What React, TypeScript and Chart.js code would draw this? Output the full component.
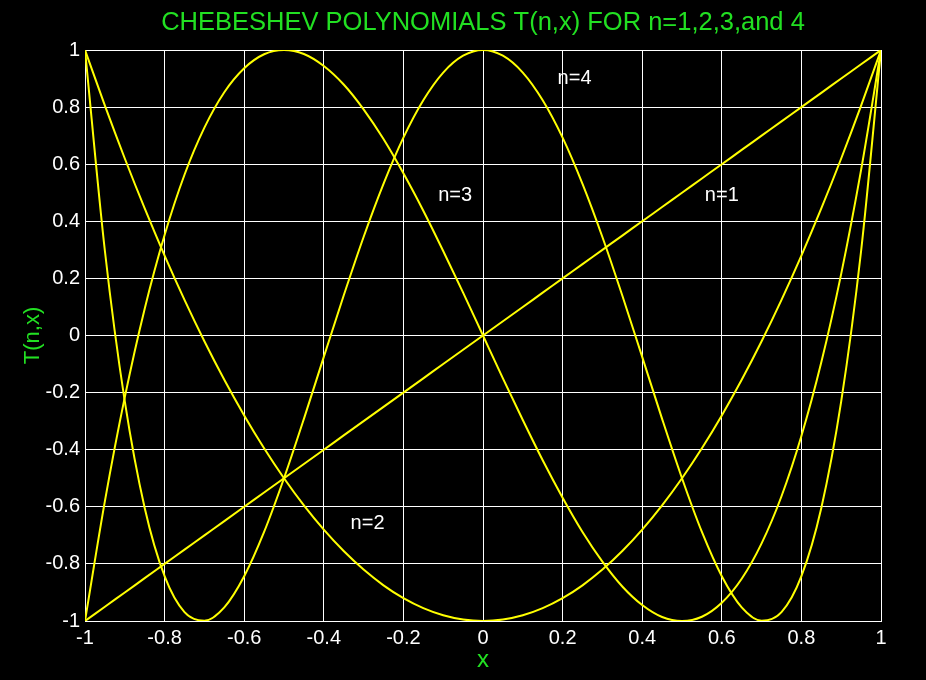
import React, { useEffect, useRef } from "react";
import { Chart, registerables } from "chart.js";
Chart.register(...registerables);

const xValues = [-1, -0.95, -0.9, -0.85, -0.8, -0.75, -0.7, -0.65, -0.6, -0.55, -0.5, -0.45, -0.4, -0.35, -0.3, -0.25, -0.2, -0.15, -0.1, -0.05, 0, 0.05, 0.1, 0.15, 0.2, 0.25, 0.3, 0.35, 0.4, 0.45, 0.5, 0.55, 0.6, 0.65, 0.7, 0.75, 0.8, 0.85, 0.9, 0.95, 1];
const t1 = [-1, -0.95, -0.9, -0.85, -0.8, -0.75, -0.7, -0.65, -0.6, -0.55, -0.5, -0.45, -0.4, -0.35, -0.3, -0.25, -0.2, -0.15, -0.1, -0.05, 0, 0.05, 0.1, 0.15, 0.2, 0.25, 0.3, 0.35, 0.4, 0.45, 0.5, 0.55, 0.6, 0.65, 0.7, 0.75, 0.8, 0.85, 0.9, 0.95, 1];
const t2 = [1, 0.805, 0.62, 0.445, 0.28, 0.125, -0.02, -0.155, -0.28, -0.395, -0.5, -0.595, -0.68, -0.755, -0.82, -0.875, -0.92, -0.955, -0.98, -0.995, -1, -0.995, -0.98, -0.955, -0.92, -0.875, -0.82, -0.755, -0.68, -0.595, -0.5, -0.395, -0.28, -0.155, -0.02, 0.125, 0.28, 0.445, 0.62, 0.805, 1];
const t3 = [-1, -0.58, -0.216, 0.094, 0.352, 0.563, 0.728, 0.852, 0.936, 0.985, 1, 0.986, 0.944, 0.879, 0.792, 0.688, 0.568, 0.437, 0.296, 0.15, 0, -0.15, -0.296, -0.437, -0.568, -0.688, -0.792, -0.879, -0.944, -0.986, -1, -0.985, -0.936, -0.852, -0.728, -0.563, -0.352, -0.094, 0.216, 0.58, 1];
const t4 = [1, 0.296, -0.231, -0.604, -0.843, -0.969, -0.999, -0.952, -0.843, -0.688, -0.5, -0.292, -0.075, 0.14, 0.345, 0.531, 0.693, 0.824, 0.921, 0.98, 1, 0.98, 0.921, 0.824, 0.693, 0.531, 0.345, 0.14, -0.075, -0.292, -0.5, -0.688, -0.843, -0.952, -0.999, -0.969, -0.843, -0.604, -0.231, 0.296, 1];
const seriesList = [t1, t2, t3, t4];
const curveLabels = ["n=1", "n=2", "n=3", "n=4"];
const labelX = [0.6, -0.29, -0.07, 0.23];
const labelY = [0.49, -0.66, 0.49, 0.9];
const tickValues = [-1, -0.8, -0.6, -0.4, -0.2, 0, 0.2, 0.4, 0.6, 0.8, 1];
const titleText = "CHEBESHEV POLYNOMIALS T(n,x) FOR n=1,2,3,and 4";
const xTitle = "x";
const yTitle = "T(n,x)";

const GREEN = "#22e022";
const YELLOW = "#ffff00";
const FONT = "Arial, 'Liberation Sans', sans-serif";

export default function App() {
  const ref = useRef<HTMLCanvasElement | null>(null);
  useEffect(() => {
    document.body.style.margin = "0";
    document.body.style.background = "#000";
    const canvas = ref.current!;
    const textPlugin = {
      id: "texts",
      beforeDraw(chart: any) {
        const c = chart.ctx;
        c.save();
        c.fillStyle = "#000";
        c.fillRect(0, 0, chart.width, chart.height);
        c.restore();
      },
      afterDraw(chart: any) {
        const c = chart.ctx;
        const xs = chart.scales.x;
        const ys = chart.scales.y;
        const area = chart.chartArea;
        c.save();
        c.fillStyle = GREEN;
        c.textAlign = "center";
        c.textBaseline = "middle";
        c.font = `25.5px ${FONT}`;
        c.fillText(titleText, (area.left + area.right) / 2, 23);
        c.font = `24px ${FONT}`;
        c.fillText(xTitle, (area.left + area.right) / 2, 660);
        c.save();
        c.translate(33, (area.top + area.bottom) / 2);
        c.rotate(-Math.PI / 2);
        c.font = `22px ${FONT}`;
        c.fillText(yTitle, 0, 0);
        c.restore();
        c.fillStyle = "#ffffff";
        c.font = `20px ${FONT}`;
        curveLabels.forEach((t, i) => {
          c.fillText(t, xs.getPixelForValue(labelX[i]), ys.getPixelForValue(labelY[i]));
        });
        c.restore();
      },
    };
    const chart = new Chart(canvas, {
      type: "line",
      data: {
        datasets: seriesList.map((s) => ({
          data: xValues.map((x, i) => ({ x, y: s[i] })),
          borderColor: YELLOW,
          borderWidth: 2,
          pointRadius: 0,
          cubicInterpolationMode: "monotone" as const,
          fill: false,
        })),
      },
      options: {
        responsive: false,
        animation: false,
        events: [],
        layout: { padding: { left: 0, top: 50, right: 45, bottom: 0 } },
        plugins: { legend: { display: false }, title: { display: false }, tooltip: { enabled: false } },
        scales: {
          x: {
            type: "linear",
            min: -1,
            max: 1,
            afterBuildTicks: (s: any) => { s.ticks = tickValues.map((v) => ({ value: v })); },
            afterFit: (s: any) => { s.height = 59; },
            grid: { color: "#ffffff", lineWidth: 1, drawTicks: false },
            border: { color: "#ffffff", width: 1 },
            ticks: {
              color: "#ffffff",
              font: { family: FONT, size: 20 },
              padding: 5,
              maxRotation: 0,
              autoSkip: false,
              callback: (v: any) => String(Number(Number(v).toFixed(1))),
            },
          },
          y: {
            type: "linear",
            min: -1,
            max: 1,
            afterBuildTicks: (s: any) => { s.ticks = tickValues.map((v) => ({ value: v })); },
            afterFit: (s: any) => { s.width = 85; },
            grid: { color: "#ffffff", lineWidth: 1, drawTicks: false },
            border: { color: "#ffffff", width: 1 },
            ticks: {
              color: "#ffffff",
              font: { family: FONT, size: 20 },
              padding: 5,
              autoSkip: false,
              callback: (v: any) => String(Number(Number(v).toFixed(1))),
            },
          },
        },
      },
      plugins: [textPlugin],
    });
    return () => chart.destroy();
  }, []);
  return (
    <div style={{ width: 926, height: 680, background: "#000" }}>
      <canvas ref={ref} width={926} height={680} style={{ display: "block", width: 926, height: 680 }} />
    </div>
  );
}
